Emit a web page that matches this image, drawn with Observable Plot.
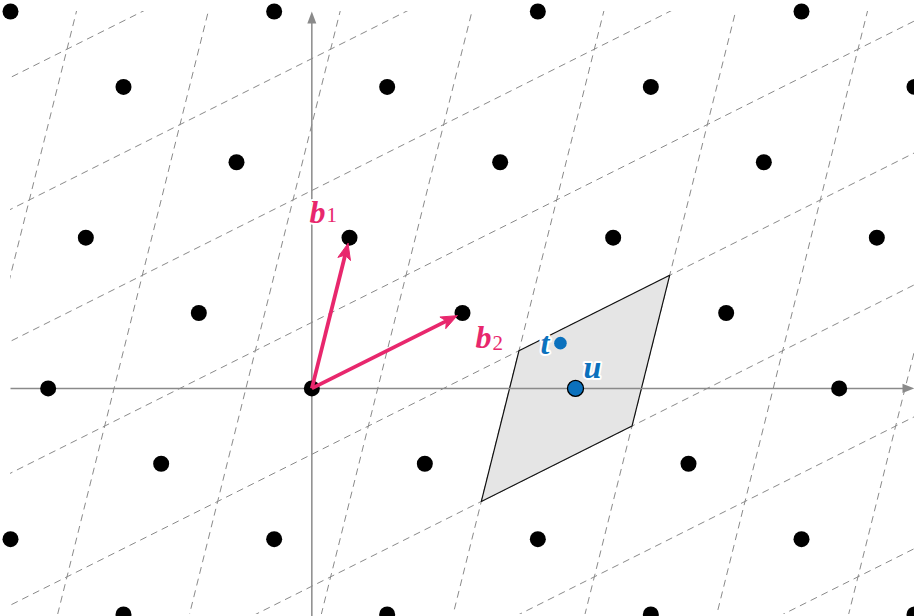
<!DOCTYPE html>
<html>
<head>
<meta charset="utf-8">
<script src="https://cdn.jsdelivr.net/npm/d3@7"></script>
<script src="https://cdn.jsdelivr.net/npm/@observablehq/plot@0.6"></script>
<style>
  body { margin: 0; background: #fff; }
  svg { display: block; }
  svg text { paint-order: stroke; }
</style>
</head>
<body>
<div id="chart"></div>
<script>
// Lattice basis and the two highlighted points
const b1 = [1, 4];
const b2 = [4, 2];
const uPoint = [7, 0];     // lattice point closest to t
const tPoint = [6.6, 1.2]; // target point

// Lattice points a·b1 + b·b2 that fall in the view
const latticeX = [-8, -1, 6, 13,  -5, 2, 9, 16,  -2, 5, 12,  -6, 1, 8, 15,  -3, 4, 11,  -7, 0, 7, 14,  -4, 3, 10,  -8, -1, 6, 13,  -5, 2, 9, 16];
const latticeY = [10, 10, 10, 10,  8, 8, 8, 8,   6, 6, 6,    4, 4, 4, 4,    2, 2, 2,    0, 0, 0, 0,   -2, -2, -2,  -4, -4, -4, -4,  -6, -6, -6, -6];

// Tiling lines: parallel to b1 through k·b2, and parallel to b2 through k·b1
const offsetsAlongB2 = [-2.5, -1.5, -0.5, 0.5, 1.5, 2.5, 3.5, 4.5];
const offsetsAlongB1 = [-3.5, -2.5, -1.5, -0.5, 0.5, 1.5, 2.5, 3.5];

// Labels
const vectorNames = ["b", "b"];
const vectorSubs = ["1", "2"];
const pointNames = ["t", "u"];

const W = 914, H = 616;
const mL = 10, mR = 0, mT = 11, mB = 2;
const xDomain = [-8, 16], yDomain = [-6, 10];
const px = (W - mL - mR) / (xDomain[1] - xDomain[0]); // pixels per data unit

const pink = "#e8276d";
const blue = "#0b71bd";
const gray = "#8a8a8a";

const add = (p, q, s = 1) => [p[0] + s * q[0], p[1] + s * q[1]];
const unit = v => { const n = Math.hypot(v[0], v[1]); return [v[0] / n, v[1] / n]; };

// dashed tiling segments (clipped to the frame)
const tiles = [
  ...offsetsAlongB2.map(o => { const c = [o * b2[0], o * b2[1]]; return {p: add(c, b1, -6), q: add(c, b1, 6)}; }),
  ...offsetsAlongB1.map(o => { const c = [o * b1[0], o * b1[1]]; return {p: add(c, b2, -6), q: add(c, b2, 6)}; })
];

// fundamental parallelogram centred on u
const cell = [[1, 1], [-1, 1], [-1, -1], [1, -1], [1, 1]].map(([s, r]) => {
  const p = add(add(uPoint, b1, s / 2), b2, r / 2);
  return {x: p[0], y: p[1]};
});

// basis vectors: shaft + filled head, stopping at the dot's edge
const basis = [b1, b2];
const shafts = basis.map(v => {
  const d = unit(v);
  const end = add(v, d, -16 / px);
  return {x1: 0, y1: 0, x2: end[0], y2: end[1]};
});
function headPolygon(tip, d, len, half, notch, id) {
  const n = [-d[1], d[0]];
  const back = add(tip, d, -len / px);
  return [
    tip,
    add(back, n, half / px),
    add(tip, d, -notch / px),
    add(back, n, -half / px),
    tip
  ].map(p => ({x: p[0], y: p[1], id}));
}
const heads = basis.flatMap((v, i) => {
  const d = unit(v);
  return headPolygon(add(v, d, -6 / px), d, 16, 6.5, 12, "v" + i);
});

// axes with filled arrow tips
const axisLines = [
  {x1: xDomain[0], y1: 0, x2: xDomain[1] - 10 / px, y2: 0},
  {x1: 0, y1: yDomain[0] - 3 / px - 0.1, x2: 0, y2: yDomain[1] - 10 / px}
];
const axisHeads = [
  ...headPolygon([xDomain[1], 0], [1, 0], 12, 4.5, 12, "ax"),
  ...headPolygon([0, yDomain[1]], [0, 1], 12, 4.5, 12, "ay")
];

const serif = "'Liberation Serif', 'DejaVu Serif', serif";

const chart = Plot.plot({
  width: W,
  height: H,
  marginLeft: mL,
  marginRight: mR,
  marginTop: mT,
  marginBottom: mB,
  x: {domain: xDomain, axis: null},
  y: {domain: yDomain, axis: null},
  marks: [
    Plot.link(tiles, {
      x1: d => d.p[0], y1: d => d.p[1], x2: d => d.q[0], y2: d => d.q[1],
      stroke: gray, strokeWidth: 1, strokeDasharray: "7,5", clip: true
    }),
    Plot.line(cell, {x: "x", y: "y", fill: "#e5e5e5", stroke: "#111", strokeWidth: 1.2}),
    Plot.link(axisLines, {x1: "x1", y1: "y1", x2: "x2", y2: "y2", stroke: gray, strokeWidth: 1.5}),
    Plot.line(axisHeads, {x: "x", y: "y", z: "id", fill: gray, stroke: "none"}),
    Plot.dot(latticeX.map((x, i) => ({x, y: latticeY[i]})), {x: "x", y: "y", r: 8, fill: "#000"}),
    Plot.link(shafts, {x1: "x1", y1: "y1", x2: "x2", y2: "y2", stroke: pink, strokeWidth: 3.8}),
    Plot.line(heads, {x: "x", y: "y", z: "id", fill: pink, stroke: pink, strokeWidth: 1}),
    Plot.dot([uPoint], {x: d => d[0], y: d => d[1], r: 8, fill: blue, stroke: "#000", strokeWidth: 1.3}),
    Plot.dot([tPoint], {x: d => d[0], y: d => d[1], r: 6.3, fill: blue}),
    // vector names
    Plot.text(basis, {
      x: d => d[0], y: d => d[1], text: (d, i) => vectorNames[i], textAnchor: "start",
      fontFamily: serif, fontStyle: "italic", fontWeight: "bold", fontSize: 32,
      fill: pink, stroke: "white", strokeWidth: 4
    }),
    Plot.text(basis, {
      x: d => d[0], y: d => d[1], text: (d, i) => vectorSubs[i], textAnchor: "start",
      fontFamily: serif, fontSize: 21,
      fill: pink, stroke: "white", strokeWidth: 3
    }),
    // point names
    Plot.text([tPoint], {
      x: d => d[0], y: d => d[1], text: () => pointNames[0], textAnchor: "end", dx: -11, dy: 1,
      fontFamily: serif, fontStyle: "italic", fontWeight: "bold", fontSize: 32,
      fill: blue, stroke: "white", strokeWidth: 4
    }),
    Plot.text([uPoint], {
      x: d => d[0], y: d => d[1], text: () => pointNames[1], textAnchor: "start", dx: 8, dy: -21,
      fontFamily: serif, fontStyle: "italic", fontWeight: "bold", fontSize: 32,
      fill: blue, stroke: "white", strokeWidth: 4
    })
  ]
});

// offsets of the basis labels (per vector: name then subscript)
const nameOffsets = [[-40, -25], [13, 25]];
const subOffsets = [[-23, -22], [30, 30]];
const textGroups = chart.querySelectorAll("g[aria-label='text']");
textGroups[0].querySelectorAll("text").forEach((t, i) => {
  t.setAttribute("transform", `translate(${nameOffsets[i][0]},${nameOffsets[i][1]}) ` + (t.getAttribute("transform") || ""));
});
textGroups[1].querySelectorAll("text").forEach((t, i) => {
  t.setAttribute("transform", `translate(${subOffsets[i][0]},${subOffsets[i][1]}) ` + (t.getAttribute("transform") || ""));
});

document.getElementById("chart").appendChild(chart);
</script>
</body>
</html>
